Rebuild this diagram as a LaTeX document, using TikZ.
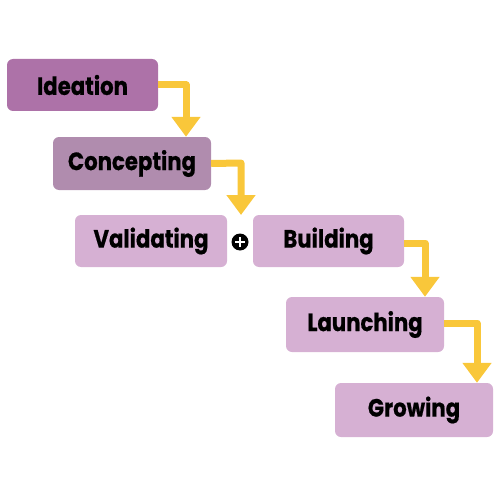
\documentclass[tikz,border=0pt]{standalone}
\usepackage{fontspec}
\setmainfont{Poppins}[BoldFont={* Bold}]
\newfontfamily\labfont{Poppins Bold}[FakeStretch=0.85,FakeBold=0.6]
\usetikzlibrary{arrows.meta,calc}
\definecolor{c1}{HTML}{AD72A8}
\definecolor{c2}{HTML}{B08CAE}
\definecolor{c3}{HTML}{D6B0D3}
\definecolor{ay}{HTML}{F9C73A}
\tikzset{
  box/.style={fill=#1, rounded corners=6pt, inner sep=0pt, font=\labfont\fontsize{25}{29}\selectfont, text=black},
  flow/.style={draw=ay, line width=7pt, -{Triangle[width=28pt,length=20pt]}, line join=round}
}
\begin{document}
\begin{tikzpicture}[x=1pt,y=-1pt]
\useasboundingbox (0,0) rectangle (500,500);
\node[box=c1, minimum width=151pt, minimum height=52pt] (ide) at (82.5,85) {Ideation};
\node[box=c2, minimum width=158pt, minimum height=53pt] (con) at (132,163.5) {Concepting};
\node[box=c3, minimum width=152pt, minimum height=52pt] (val) at (151,241) {Validating};
\node[box=c3, minimum width=151pt, minimum height=52pt] (bui) at (328.5,241) {Building};
\node[box=c3, minimum width=158pt, minimum height=55pt] (lau) at (365,324.5) {Launching};
\node[box=c3, minimum width=158pt, minimum height=54pt] (gro) at (414,410) {Growing};
\node[circle, fill=black, minimum size=17pt, inner sep=0pt] (plus) at (240,242) {};
\draw[white, line width=2.6pt] ($(plus)+(-5,0)$) -- ($(plus)+(5,0)$);
\draw[white, line width=2.6pt] ($(plus)+(0,-5)$) -- ($(plus)+(0,5)$);
\coordinate (a1) at (186,85);
\draw[flow] (ide.east) -- (a1) -- (a1 |- con.north);
\coordinate (a2) at (241,163);
\draw[flow] (con.east) -- (a2) -- (241,215);
\coordinate (a3) at (425,243);
\draw[flow] (bui.east |- a3) -- (a3) -- (a3 |- lau.north);
\coordinate (a4) at (477,323);
\draw[flow] (lau.east |- a4) -- (a4) -- (a4 |- gro.north);
\end{tikzpicture}
\end{document}
